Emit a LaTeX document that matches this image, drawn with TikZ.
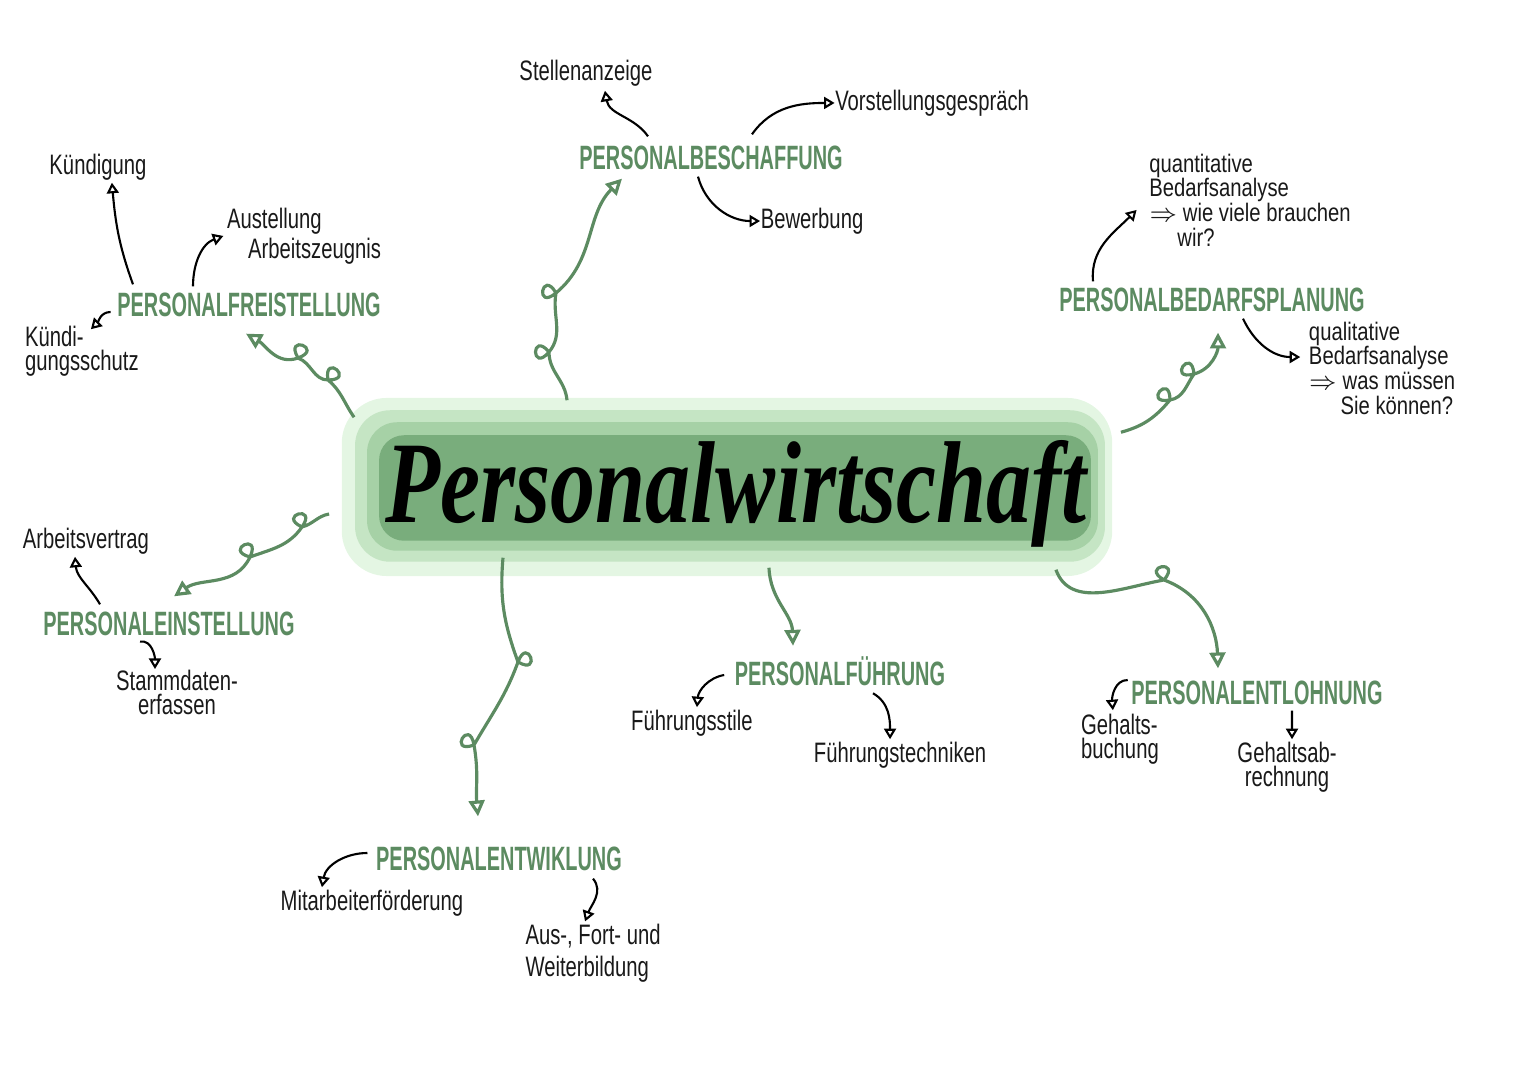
\documentclass[tikz,border=0pt]{standalone}
\usepackage{fontspec}
\usepackage{tikz}
\usetikzlibrary{arrows.meta,positioning}

\newfontfamily\handfont[FakeStretch=0.72]{Liberation Sans}
\newfontfamily\smallhand[FakeStretch=0.8]{Liberation Sans}
\newfontfamily\headfont[FakeStretch=0.59]{Liberation Sans}
\newfontfamily\brushfont{Liberation Serif}

\definecolor{leaf}{RGB}{92,139,97}
\definecolor{blobA}{RGB}{228,246,227}
\definecolor{blobB}{RGB}{197,229,196}
\definecolor{blobC}{RGB}{166,209,166}
\definecolor{blobD}{RGB}{121,173,124}

\tikzset{
  topic/.style={inner sep=0pt, text=leaf, font=\headfont\bfseries\fontsize{9.6}{11}\selectfont},
  note/.style={inner sep=0pt, text=black!90, font=\handfont\fontsize{8}{6.8}\selectfont},
  longnote/.style={note, align=left, font=\smallhand\fontsize{7.2}{7}\selectfont},
  link/.style={line width=0.6pt, -{Triangle[open,length=3pt,width=3.4pt]}},
  branch/.style={draw=leaf, line width=0.9pt, -{Triangle[open,length=4.5pt,width=4.5pt]}},
  blob/.style={fill=blobA, rounded corners=0.45cm, minimum width=7.7cm,
    minimum height=1.78cm, inner sep=0pt}
}

\begin{document}
\begin{tikzpicture}[x=0.01cm, y=0.01cm, node distance=1cm, on grid]
  \useasboundingbox (0,0) rectangle (1527,-1080);

  % middle
  \node[blob] (title) at (727,-487) {};
  \fill[blobB, rounded corners=0.35cm] ([shift={(14,-13)}]title.north west) rectangle ([shift={(-8,15)}]title.south east);
  \fill[blobC, rounded corners=0.3cm] ([shift={(26,-25)}]title.north west) rectangle ([shift={(-15,26)}]title.south east);
  \fill[blobD, rounded corners=0.25cm] ([shift={(38,-38)}]title.north west) rectangle ([shift={(-22,36)}]title.south east);
  \node[anchor=base, inner sep=0pt] (word) at (736,-523)
    {\resizebox{7cm}{0.82cm}{\brushfont\bfseries\itshape Personalwirtschaft}};

  % topics
  \node[topic] (besch) at (711,-158) {PERSONALBESCHAFFUNG};
  \node[topic] (frei) at (249,-305) {PERSONALFREISTELLUNG};
  \node[topic] (bedarf) at (1212,-300) {PERSONALBEDARFSPLANUNG};
  \node[topic] (einst) at (169,-624) {PERSONALEINSTELLUNG};
  \node[topic] (fuehr) at (840,-671) {PERSONALFÜHRUNG};
  \node[topic] (lohn) at (1257,-693) {PERSONALENTLOHNUNG};
  \node[topic] (entw) at (499,-859) {PERSONALENTWIKLUNG};

  % notes
  \node[note, above left=0.85cm and 1.25cm of besch] (stelle) {Stellenanzeige};
  \node[note, above right=0.55cm and 2.21cm of besch] (vorst) {Vorstellungsgespräch};
  \node[note, below right=0.63cm and 1.01cm of besch] (bew) {Bewerbung};

  \node[note, above left=1.38cm and 1.51cm of frei] (kuend) {Kündigung};
  \node[note, above right=0.69cm and 0.55cm of frei, align=left] (aus) {Austellung\\\hspace*{6pt}Arbeitszeugnis};
  \node[note, below left=0.46cm and 1.67cm of frei, align=left] (schutz) {Kündi-\\gungsschutz};

  \node[longnote, above right=1.0cm and 0.38cm of bedarf] (quant)
    {quantitative\\Bedarfsanalyse\\$\Rightarrow$ wie viele brauchen\\\hspace*{8pt}wir?};
  \node[longnote, below right=0.68cm and 1.70cm of bedarf] (qual)
    {qualitative\\Bedarfsanalyse\\$\Rightarrow$ was müssen\\\hspace*{9pt}Sie können?};

  \node[note, above left=0.83cm and 0.83cm of einst] (vertrag) {Arbeitsvertrag};
  \node[note, below right=0.68cm and 0.08cm of einst, align=center] (stamm) {Stammdaten-\\erfassen};

  \node[note, below left=0.52cm and 1.48cm of fuehr] (stile) {Führungsstile};
  \node[note, below right=0.84cm and 0.60cm of fuehr] (tech) {Führungstechniken};

  \node[note, below left=0.46cm and 1.37cm of lohn, align=left] (buch) {Gehalts-\\buchung};
  \node[note, below right=0.74cm and 0.30cm of lohn, align=center] (abr) {Gehaltsab-\\rechnung};

  \node[note, below left=0.44cm and 1.27cm of entw] (mit) {Mitarbeiterförderung};
  \node[note, below right=0.94cm and 0.94cm of entw, align=left, font=\handfont\fontsize{8}{9}\selectfont] (ausb) {Aus-, Fort- und\\Weiterbildung};

  % green branches
  \draw[branch] ([shift={(-160,-3)}]title.north) to[out=95,in=-90] (549,-352)
    to[out=130,in=230,min distance=0.28cm] (549,-352) to[out=50,in=-100] (556,-293)
    to[out=120,in=220,min distance=0.28cm] (556,-293) to[out=40,in=225] ([shift={(-89,-8)}]besch.south);
  \draw[branch] ([shift={(13,-20)}]title.north west) to[out=125,in=-40] (328,-380)
    to[out=100,in=0,min distance=0.28cm] (328,-380) to[out=180,in=-20] (298,-358)
    to[out=120,in=20,min distance=0.28cm] (298,-358) to[out=200,in=-30] ([shift={(-3,-16)}]frei.south);
  \draw[branch] ([shift={(8,-35)}]title.north east) to[out=15,in=-130] (1170,-400)
    to[out=90,in=190,min distance=0.28cm] (1170,-400) to[out=10,in=-125] (1194,-374)
    to[out=95,in=195,min distance=0.28cm] (1194,-374) to[out=15,in=-90] ([shift={(6,-20)}]bedarf.south);
  \draw[branch] ([shift={(-12,-27)}]title.west) to[out=190,in=15] (302,-527)
    to[out=155,in=55,min distance=0.28cm] (302,-527) to[out=235,in=20] (250,-557)
    to[out=165,in=65,min distance=0.28cm] (250,-557) to[out=245,in=35] ([shift={(5,15)}]einst.north);
  \draw[branch] ([shift={(-224,19)}]title.south) to[out=-95,in=110] (518,-662)
    to[out=-30,in=70,min distance=0.28cm] (518,-662) to[out=-110,in=60] (474,-745)
    to[out=-160,in=100,min distance=0.28cm] (474,-745) to[out=-80,in=95] ([shift={(-21,30)}]entw.north);
  \draw[branch] ([shift={(42,9)}]title.south) to[out=-88,in=92] ([shift={(-47,10)}]fuehr.north);
  \draw[branch] ([shift={(-57,7)}]title.south east) to[out=-70,in=190] (1164,-580)
    to[out=50,in=150,min distance=0.28cm] (1164,-580) to[out=-20,in=92] ([shift={(-39,12)}]lohn.north);

  % black links
  \draw[link] ([shift={(-63,9)}]besch.north) to[out=125,in=-80] ([shift={(19,-4)}]stelle.south);
  \draw[link] ([shift={(41,11)}]besch.north) to[out=55,in=180] (vorst.west);
  \draw[link] ([shift={(-13,-6)}]besch.south) to[out=-75,in=180] (bew.west);
  \draw[link] ([shift={(-116,8)}]frei.north) to[out=110,in=-85] ([shift={(14,-2)}]kuend.south);
  \draw[link] ([shift={(-56,6)}]frei.north) to[out=90,in=200] ([shift={(-3,0)}]aus.west);
  \draw[link] ([shift={(-6,-7)}]frei.west) to[out=180,in=45] ([shift={(9,-4)}]schutz.north);
  \draw[link] ([shift={(-119,6)}]bedarf.north) to[out=95,in=225] ([shift={(-12,-10)}]quant.west);
  \draw[link] ([shift={(31,-6)}]bedarf.south) to[out=-65,in=180] ([shift={(-8,11)}]qual.west);
  \draw[link] ([shift={(-69,7)}]einst.north) to[out=120,in=-85] ([shift={(-11,-2)}]vertrag.south);
  \draw[link] ([shift={(-29,-5)}]einst.south) to[out=10,in=90] ([shift={(-22,0)}]stamm.north);
  \draw[link] ([shift={(-10,-4)}]fuehr.west) to[out=190,in=85] ([shift={(5,2)}]stile.north);
  \draw[link] ([shift={(33,-7)}]fuehr.south) to[out=-30,in=90] ([shift={(-10,2)}]tech.north);
  \draw[link] ([shift={(-3,13)}]lohn.west) to[out=180,in=95] ([shift={(-7,3)}]buch.north);
  \draw[link] ([shift={(35,-5)}]lohn.south) -- ([shift={(5,2)}]abr.north);
  \draw[link] ([shift={(-8,6)}]entw.west) to[out=180,in=80] ([shift={(-50,2)}]mit.north);
  \draw[link] ([shift={(94,-7)}]entw.south) to[out=-50,in=70] ([shift={(-8,2)}]ausb.north);
\end{tikzpicture}
\end{document}
